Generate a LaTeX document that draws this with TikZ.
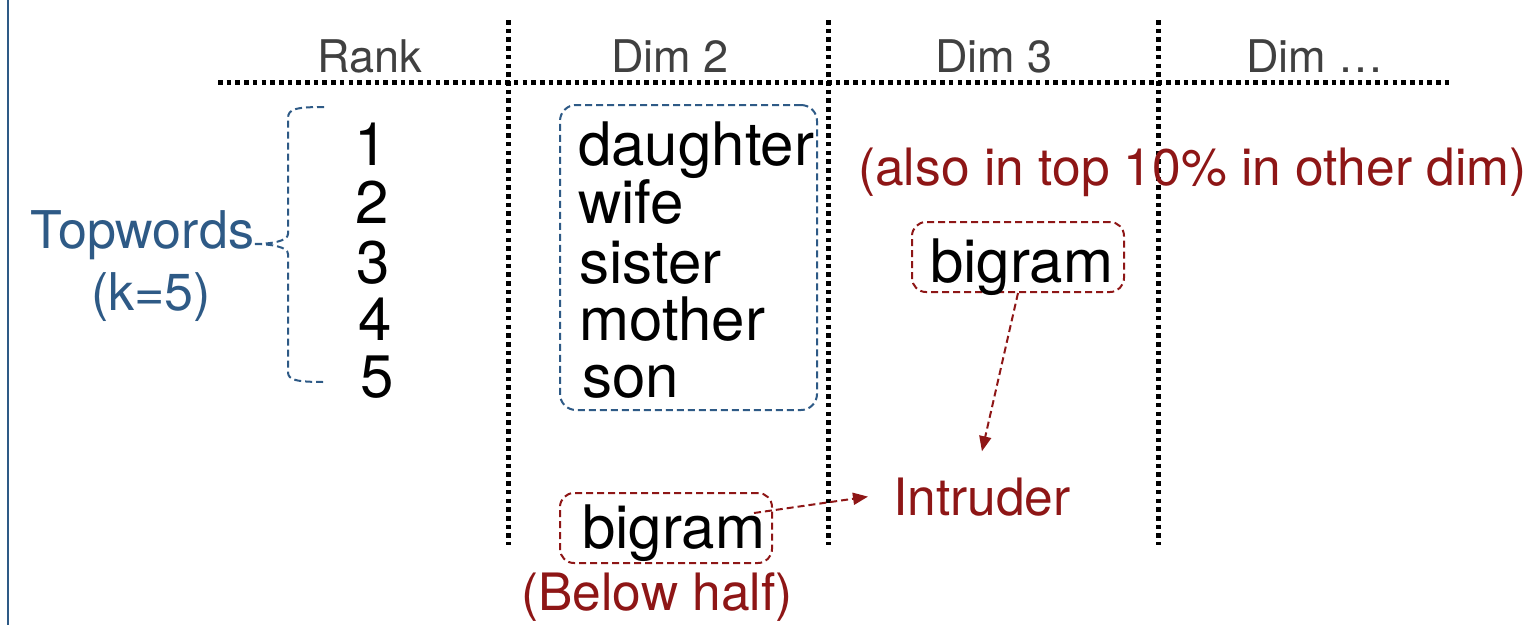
\documentclass[tikz,border=0pt]{standalone}
\usepackage{fontspec}
\setmainfont{TeX Gyre Heros}
\usetikzlibrary{arrows.meta,calc}
\definecolor{myblue}{HTML}{2E5A86}
\definecolor{myred}{HTML}{8E1616}
\definecolor{hdrgray}{HTML}{404040}
\begin{document}
\begin{tikzpicture}[x=1pt,y=-1pt,
  every node/.style={inner sep=0pt},
  hdr/.style={font=\fontsize{45}{45}\selectfont, text=hdrgray, anchor=base},
  big/.style={font=\fontsize{60}{60}\selectfont, anchor=base},
  bigw/.style={font=\fontsize{60}{60}\selectfont, anchor=base west},
  bluelab/.style={font=\fontsize{52}{52}\selectfont, text=myblue, anchor=base},
  redlab/.style={font=\fontsize{51.5}{51.5}\selectfont, text=myred},
  dotline/.style={line width=5pt, dash pattern=on 4.6pt off 4.1pt},
  bluebox/.style={draw=myblue, line width=2pt, dash pattern=on 7pt off 4pt, rounded corners=16pt},
  redbox/.style={draw=myred, line width=2pt, dash pattern=on 7pt off 4pt, rounded corners=14pt},
  redarrow/.style={draw=myred, line width=2pt, dash pattern=on 7pt off 4pt, -{Triangle[length=15pt,width=12pt]}},
  brace/.style={draw=myblue, line width=2pt, dash pattern=on 7pt off 4pt}
]
\useasboundingbox (0,0) rectangle (1530,625);
\fill[white] (0,0) rectangle (1530,625);

% left border line
\draw[myblue, line width=2.2pt] (8,0) -- (8,625);

% dotted grid
\draw[dotline] (218,82) -- (1450,82);
\draw[dotline] (508,20) -- (508,545);
\draw[dotline] (828,20) -- (828,545);
\draw[dotline] (1158,20) -- (1158,545);

% headers
\node[hdr] (hrank) at (370,72) {Rank};
\node[hdr] (hdim2) at (670,72) {Dim 2};
\node[hdr] (hdim3) at (994,72) {Dim 3};
\node[hdr] (hdimx) at (1315,72) {Dim \ldots};

% ranks
\node[big] (r1) at (371,165) {1};
\node[big] (r2) at (372,223) {2};
\node[big] (r3) at (373,283) {3};
\node[big] (r4) at (375,340) {4};
\node[big] (r5) at (377,397) {5};

% words
\node[bigw] (w1) at (578,165) {daughter};
\node[bigw] (w2) at (578,223) {wife};
\node[bigw] (w3) at (579,283) {sister};
\node[bigw] (w4) at (579,340) {mother};
\node[bigw] (w5) at (582,397) {son};

% blue box around top words
\node[bluebox, minimum width=257pt, minimum height=305pt] (topbox) at (688.5,257.5) {};

% topwords label and brace
\node[bluelab] (topw) at (142.5,248) {Topwords};
\node[bluelab] (kval) at (151,310) {(k=5)};
\draw[brace] (324,107) .. controls (296,107) and (288,109) .. (288,118)
  -- (288,234) .. controls (288,241) and (272,244) .. (253,244)
  .. controls (272,244) and (288,247) .. (288,254)
  -- (288,372) .. controls (288,380) and (296,382) .. (325,382);

% other-dim note
\node[redlab, anchor=base west] (note) at (858,185) {(also in top 10\% in other dim)};

% bigram in dim 3
\node[redbox, minimum width=212pt, minimum height=70pt] (big3box) at (1018,257) {};
\node[bigw] (big3) at (930,282) {bigram};

% intruder label
\node[redlab, anchor=base west] (intruder) at (893,515) {Intruder};

% bigram in dim 2 (below half)
\node[redbox, minimum width=212pt, minimum height=70pt] (big2box) at (666,528) {};
\node[bigw] (big2) at (582,548) {bigram};
\node[redlab, anchor=base] (below) at (657,610) {(Below half)};

% arrows
\draw[redarrow] (big3box.south) -- ([yshift=26pt]intruder.north);
\draw[redarrow] ([xshift=-19pt,yshift=15pt]big2box.east) -- ([xshift=-25pt]intruder.west);
\end{tikzpicture}
\end{document}
